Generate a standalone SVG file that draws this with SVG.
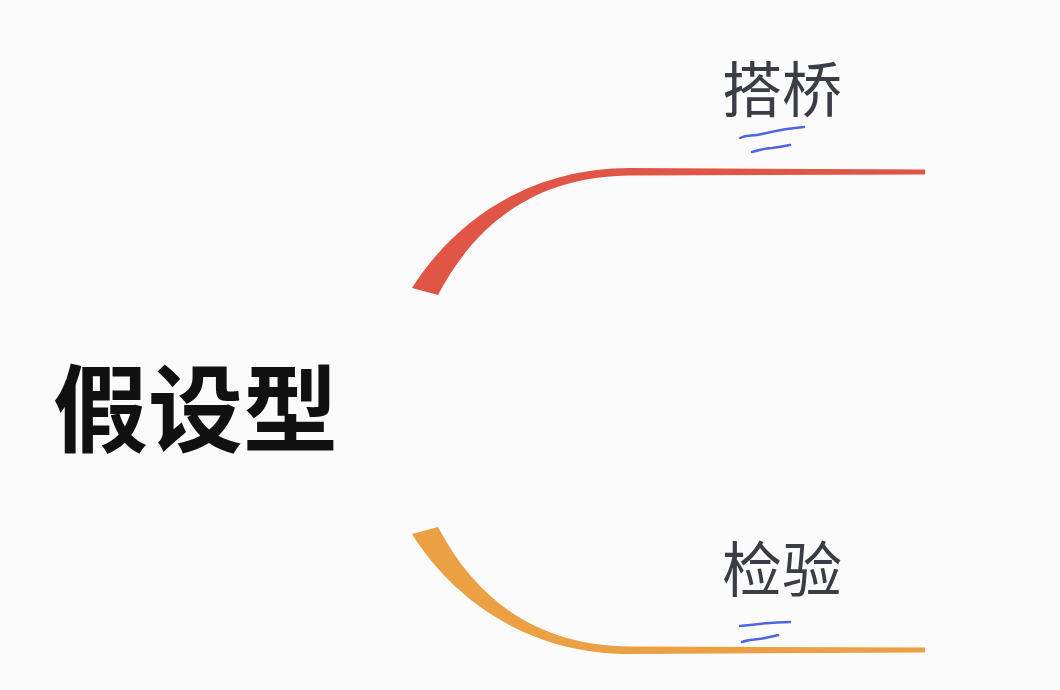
<svg xmlns="http://www.w3.org/2000/svg" width="1060" height="690" viewBox="0 0 1060 690">
<style>
.root{font-family:"Noto Sans CJK SC","Noto Sans",sans-serif;font-weight:700;font-size:95px;fill:#111}
.lbl{font-family:"Noto Sans CJK SC","Noto Sans",sans-serif;font-weight:400;font-size:60px;fill:#3a3d44}
.mark{fill:none;stroke:#4f66e0;stroke-width:2.5;stroke-linecap:round}
</style>
<rect width="1060" height="690" fill="#fcfbfc"/>
<g id="connectors">
<path id="edge-top" fill="#e05545" d="M412,288 C455,220 530,168 630,168 L925,169.5 L925,174.5 L630,175.5 C545,176 480,215 438,295 Z"/>
<path id="edge-bottom" fill="#eba043" d="M412,534 C455,602 530,654 630,654 L925,652.5 L925,647.5 L630,646.5 C545,646 480,607 438,527 Z"/>
</g>
<g id="node-root"><text class="root" x="53" y="445">假设型</text></g>
<g id="node-bridge">
<text class="lbl" x="722" y="112">搭桥</text>
<path class="mark" d="M740,138 C748,134 752,137 762,134 C775,131 790,128 804,127"/>
<path class="mark" d="M752,152 C760,150 766,148 772,148 C780,147 785,146 790,145"/>
</g>
<g id="node-verify">
<text class="lbl" x="722" y="592">检验</text>
<path class="mark" d="M740,626 C756,624 775,622 790,622"/>
<path class="mark" d="M742,642 C752,638 758,640 765,638 C770,637 775,636 778,635"/>
</g>
</svg>
